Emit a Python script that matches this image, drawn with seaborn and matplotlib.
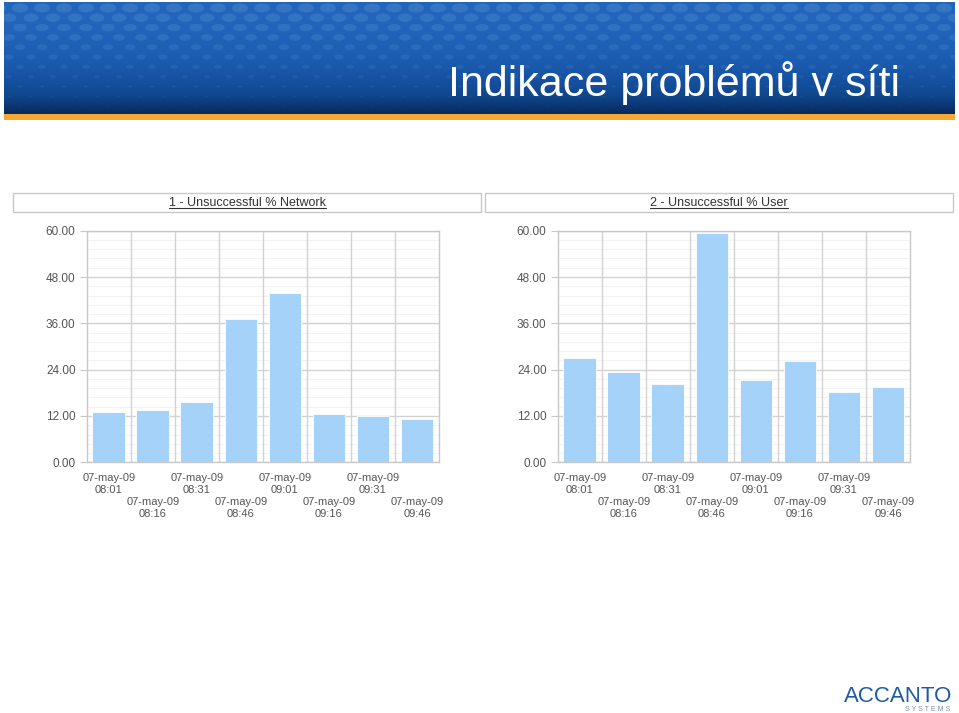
import numpy as np
import pandas as pd
import matplotlib
matplotlib.use("Agg")
import matplotlib.pyplot as plt
import seaborn as sns
from matplotlib.collections import EllipseCollection
from matplotlib.colors import LinearSegmentedColormap, to_rgba
from matplotlib.patches import Rectangle
from matplotlib.lines import Line2D

# --- data ---
date_label = "07-may-09"
times = ["08:01", "08:16", "08:31", "08:46", "09:01", "09:16", "09:31", "09:46"]
network_pct = [13.0, 13.6, 15.6, 37.0, 43.8, 12.6, 12.0, 11.1]
user_pct = [26.9, 23.4, 20.3, 59.3, 21.2, 26.2, 18.1, 19.6]
panel_titles = ["1 - Unsuccessful % Network", "2 - Unsuccessful % User"]
y_ticks = [0, 12, 24, 36, 48, 60]
slide_title = "Indikace problémů v síti"

W, H = 959, 713
BAR_COLOR = "#a5d2f8"
GRID = "#d2d2d2"
TXT = "#555555"


def fx(px):
    return px / W


def fy(py):
    return 1 - py / H


sns.set_style("white")
plt.rcParams["font.family"] = ["Liberation Sans", "DejaVu Sans"]

fig = plt.figure(figsize=(W / 100, H / 100), dpi=100)

# --- banner ---
ax_b = fig.add_axes([fx(4), fy(114), 951 / W, 112 / H])
cmap = LinearSegmentedColormap.from_list(
    "banner", ["#2366bb", "#1d5eb3", "#1652a3", "#0f4489", "#072a5e"])
grad = np.linspace(0, 1, 256).reshape(-1, 1) ** 1.8
ax_b.imshow(grad, aspect="auto", cmap=cmap, extent=[0, 951, 112, 0])
offs, ws, hs, cols = [], [], [], []
for r in range(11):
    yy = 6 + r * 9.8
    for xx in np.arange(-6 + (r % 2) * 11, 960, 22):
        offs.append((xx, yy))
        ws.append(max(16 - r * 1.4, 3))
        hs.append(max(9 - r * 0.8, 1.5))
        cols.append(to_rgba("#5f98da", 0.32 - r * 0.026))
ax_b.add_collection(EllipseCollection(ws, hs, np.zeros(len(ws)), units="xy",
                                      offsets=offs, offset_transform=ax_b.transData,
                                      facecolors=cols, edgecolors="none"))
ax_b.set_xlim(0, 951)
ax_b.set_ylim(112, 0)
ax_b.axis("off")
fig.patches.append(Rectangle((fx(4), fy(120)), 951 / W, 6 / H, transform=fig.transFigure,
                             facecolor="#f5a834", edgecolor="none"))
fig.text(fx(900), fy(96), slide_title, ha="right", va="baseline", color="white",
         fontsize=31, family=["Liberation Sans Narrow", "Liberation Sans", "DejaVu Sans"])

# --- two bar panels ---
labels = [f"{date_label}\n{t}" for t in times]
panels = [(86.7, network_pct, (13, 481)), (557.7, user_pct, (485, 953))]
title_texts = []
for (left, values, box), title in zip(panels, panel_titles):
    ax = fig.add_axes([fx(left), fy(462.3), 352.3 / W, 231.6 / H])
    df = pd.DataFrame({"slot": labels, "pct": values})
    sns.barplot(data=df, x="slot", y="pct", color=BAR_COLOR, saturation=1, width=0.74,
                edgecolor="white", linewidth=0.6, ax=ax, zorder=3)
    ax.set_axisbelow(True)
    ax.set_xlim(-0.5, len(times) - 0.5)
    ax.set_ylim(0, 60)
    ax.set_xlabel("")
    ax.set_ylabel("")
    ax.set_yticks(y_ticks, [f"{v:.2f}" for v in y_ticks])
    ax.set_yticks(np.arange(0, 60, 2.4), minor=True)
    ax.grid(axis="y", which="major", color=GRID, lw=1)
    ax.grid(axis="y", which="minor", color="#f3f3f3", lw=0.8)
    for b in np.arange(0.5, len(times) - 0.5):
        ax.axvline(b, color=GRID, lw=1, zorder=1)
    ax.set_xticks(range(0, len(times), 2), labels[0::2])
    ax.set_xticks(range(1, len(times), 2), labels[1::2], minor=True)
    ax.tick_params(axis="x", which="major", length=6, pad=2, color="#c8c8c8",
                   labelsize=8, labelcolor=TXT)
    ax.tick_params(axis="x", which="minor", length=23, pad=2, color="#c8c8c8",
                   labelsize=8, labelcolor=TXT)
    ax.tick_params(axis="y", which="major", length=5, pad=3, color="#c8c8c8",
                   labelsize=8.5, labelcolor=TXT, left=True)
    ax.tick_params(axis="y", which="minor", length=0)
    for sp in ax.spines.values():
        sp.set_visible(True)
        sp.set_color("#c8c8c8")
        sp.set_linewidth(1)

    x0, x1 = box
    fig.patches.append(Rectangle((fx(x0), fy(212)), (x1 - x0) / W, 19 / H,
                                 transform=fig.transFigure, facecolor="white",
                                 edgecolor="#c8c8c8", lw=1))
    t = fig.text(fx((x0 + x1) / 2), fy(203), title, ha="center", va="center",
                 fontsize=9, color="#333333")
    title_texts.append(t)

# underline the panel titles
fig.canvas.draw()
for t in title_texts:
    bb = t.get_window_extent().transformed(fig.transFigure.inverted())
    fig.lines.append(Line2D([bb.x0, bb.x1], [bb.y0 + 1.5 / H, bb.y0 + 1.5 / H],
                            transform=fig.transFigure, color="#333333", lw=0.8))

# --- logo ---
fig.text(fx(952), fy(702), "ACCANTO", ha="right", va="baseline", color="#1f5aa6",
         fontsize=16)
fig.text(fx(950), fy(711), "S Y S T E M S", ha="right", va="baseline", color="#7d8ca6",
         fontsize=5)

fig.savefig("out.png", dpi=100)
